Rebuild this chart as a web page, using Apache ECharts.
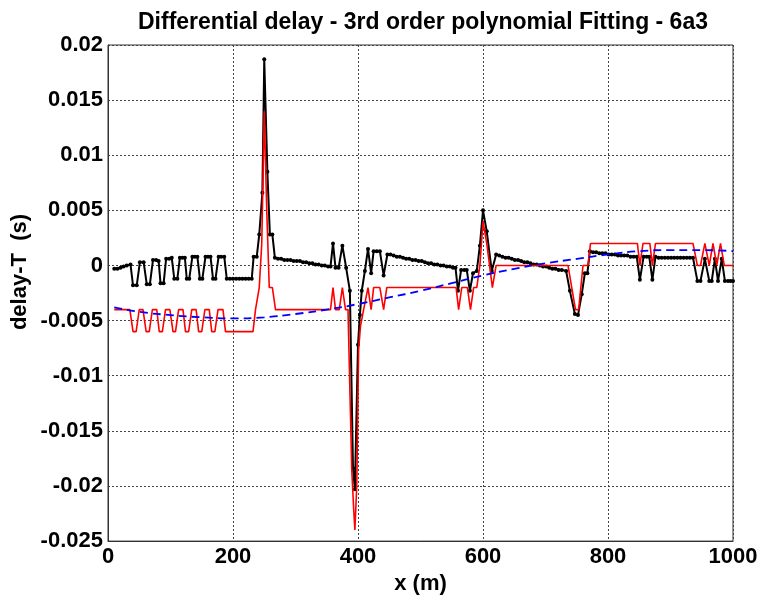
<!DOCTYPE html>
<html>
<head>
<meta charset="utf-8">
<script src="https://cdn.jsdelivr.net/npm/echarts@6/dist/echarts.min.js"></script>
<style>
html,body{margin:0;padding:0;background:#fff;}
#chart{width:761px;height:600px;}
</style>
</head>
<body>
<div id="chart"></div>
<script>
// ---- Data ----
var chartTitle = 'Differential delay - 3rd order polynomial Fitting - 6a3';
var xName = 'x (m)';
var yName = 'delay-T  (s)';
var xTicks = [0, 200, 400, 600, 800, 1000];
var yTickLabels = ['0.02','0.015','0.01','0.005','0','-0.005','-0.01','-0.015','-0.02','-0.025'];

// measured delay (black, dots)
var measuredX = [10,15,20,25,30,36,40,46,51,57,62,67,72,77,81,84,89,93,98,102,106,111,115,119,123,126,130,135,139,143,147,151,156,160,164,168,172,177,181,186,190,195,200,205,210,215,220,225,230,233,238,242,247,250,255,259,263,267,272,277,282,287,292,297,302,307,312,317,322,327,332,337,342,347,352,356,360,364,369,375,381,387,392,395,400,403,406,411,416,421,425,430,435,441,447,452,457,462,467,472,477,482,487,492,497,502,507,512,517,522,527,532,537,542,547,552,556,560,565,570,574,579,584,590,595,600,606,614,621,626,631,636,641,646,651,656,661,666,671,676,681,686,691,696,701,706,711,716,721,726,733,739,747,752,758,763,767,771,776,781,786,791,796,801,806,811,816,821,826,831,836,841,846,851,857,862,866,871,876,881,886,891,896,901,906,911,916,921,926,931,936,943,948,955,962,966,971,976,982,987,992,996,1000];
var measuredY = [-0.0003,-0.0003,-0.0002,-0.0001,0.0000,0.0001,-0.0018,-0.0018,0.0003,0.0003,-0.0017,-0.0017,0.0005,0.0005,0.0004,-0.0016,-0.0016,0.0006,0.0006,0.0007,-0.0012,-0.0012,0.0007,0.0007,0.0007,-0.0012,-0.0012,0.0008,0.0008,0.0008,-0.0012,-0.0012,0.0008,0.0008,0.0008,-0.0012,-0.0012,0.0008,0.0008,0.0008,-0.0012,-0.0012,-0.0012,-0.0012,-0.0012,-0.0012,-0.0012,-0.0012,-0.0012,0.0008,0.0008,0.0028,0.0066,0.0187,0.0085,0.0028,0.0028,0.0007,0.0006,0.0006,0.0005,0.0005,0.0005,0.0004,0.0004,0.0004,0.0003,0.0003,0.0002,0.0002,0.0001,0.0001,0.0000,0.0000,-0.0001,-0.0001,0.0020,-0.0002,-0.0002,0.0018,-0.0002,-0.0023,-0.0184,-0.0203,-0.0072,-0.0045,-0.0023,-0.0005,0.0015,-0.0007,0.0013,0.0013,0.0013,-0.0009,0.0010,0.0010,0.0009,0.0008,0.0008,0.0007,0.0006,0.0006,0.0005,0.0005,0.0004,0.0004,0.0003,0.0002,0.0002,0.0001,0.0001,0.0000,0.0000,-0.0001,-0.0001,-0.0002,-0.0002,-0.0023,-0.0004,-0.0004,-0.0004,-0.0023,-0.0007,-0.0005,0.0018,0.0050,0.0031,-0.0005,0.0010,0.0009,0.0008,0.0007,0.0007,0.0006,0.0005,0.0005,0.0004,0.0003,0.0003,0.0002,0.0001,0.0001,0.0000,-0.0001,-0.0001,-0.0002,-0.0003,-0.0003,-0.0004,-0.0004,-0.0005,-0.0023,-0.0044,-0.0045,-0.0026,-0.0007,-0.0007,0.0013,0.0012,0.0012,0.0011,0.0011,0.0011,0.0010,0.0010,0.0010,0.0009,0.0009,0.0009,0.0009,0.0008,0.0008,0.0008,-0.0013,0.0008,0.0008,0.0008,-0.0013,0.0008,0.0007,0.0007,0.0007,0.0007,0.0007,0.0007,0.0007,0.0007,0.0007,0.0007,0.0007,0.0007,-0.0014,-0.0014,0.0006,-0.0014,-0.0014,0.0006,-0.0014,0.0006,-0.0014,-0.0014,-0.0014,-0.0014];

// quantized delay (red line)
var quantX = [10,35,40,45,50,56,61,66,71,78,82,87,92,99,104,108,113,120,124,129,134,141,145,150,155,162,166,171,176,184,188,232,236,242,246,250,254,258,263,268,356,360,364,370,375,380,384,390,393,395,398,401,404,409,416,421,425,435,441,446,557,561,566,575,580,585,590,595,600,606,615,621,736,742,748,753,760,768,772,847,851,856,867,871,876,936,943,948,955,962,968,974,980,986,1000];
var quantY = [-0.004,-0.004,-0.006,-0.006,-0.004,-0.004,-0.006,-0.006,-0.004,-0.004,-0.006,-0.006,-0.004,-0.004,-0.006,-0.006,-0.004,-0.004,-0.006,-0.006,-0.004,-0.004,-0.006,-0.006,-0.004,-0.004,-0.006,-0.006,-0.004,-0.004,-0.006,-0.006,-0.004,-0.002,0.002,0.014,0.005,-0.002,-0.002,-0.004,-0.004,-0.002,-0.004,-0.004,-0.002,-0.004,-0.004,-0.0185,-0.022,-0.024,-0.020,-0.0076,-0.0055,-0.004,-0.002,-0.004,-0.002,-0.002,-0.004,-0.002,-0.002,-0.004,-0.002,-0.002,-0.004,-0.002,-0.002,0.000,0.004,0.002,-0.002,0.000,0.000,-0.002,-0.004,-0.004,0.000,0.000,0.002,0.002,0.000,0.002,0.002,0.000,0.002,0.002,0.000,0.000,0.002,0.000,0.002,0.000,0.002,0.000,0.000];

// 3rd order polynomial fit (blue dashed)
var fitX = [10,50,100,150,200,250,300,350,400,450,500,550,600,650,700,750,800,850,900,950,1000];
var fitY = [-0.0038,-0.0042,-0.0045,-0.0047,-0.0048,-0.0047,-0.0044,-0.0040,-0.0035,-0.0029,-0.0023,-0.0016,-0.0009,-0.0003,0.0002,0.0006,0.0010,0.0013,0.0014,0.0014,0.0013];

function pairs(xs, ys){ return xs.map(function(x,i){ return [x, ys[i]]; }); }

var FONT = 'Liberation Sans, Arial, sans-serif';
var chart = echarts.init(document.getElementById('chart'), null, {renderer:'canvas'});
chart.setOption({
  animation: false,
  backgroundColor: '#ffffff',
  title: {
    text: chartTitle,
    left: 418, top: 6, textAlign: 'center',
    textStyle: {fontFamily: FONT, fontWeight: 'bold', fontSize: 23, color: '#000'}
  },
  grid: {left: 108, right: 28, top: 45, bottom: 55, show: true, borderColor: '#333', borderWidth: 1, backgroundColor: '#fff'},
  xAxis: {
    type: 'value', min: xTicks[0], max: xTicks[xTicks.length-1], interval: 200,
    name: xName, nameLocation: 'middle', nameGap: 27,
    nameTextStyle: {fontFamily: FONT, fontWeight: 'bold', fontSize: 22, color: '#000'},
    axisLine: {show: true, onZero: false, lineStyle: {color: '#333', width: 1}},
    axisTick: {show: false},
    axisLabel: {fontFamily: FONT, fontWeight: 'bold', fontSize: 22, color: '#000', margin: 5,
      formatter: function(v){ return String(v); }},
    splitLine: {show: true, lineStyle: {color: '#444', type: [2, 2], width: 1}}
  },
  yAxis: {
    type: 'value', min: -0.025, max: 0.02, interval: 0.005,
    axisLine: {show: true, onZero: false, lineStyle: {color: '#333', width: 1}},
    axisTick: {show: false},
    axisLabel: {fontFamily: FONT, fontWeight: 'bold', fontSize: 22, color: '#000', margin: 5,
      formatter: function(v){ var i = Math.round((0.02 - v)/0.005); return yTickLabels[i] !== undefined ? yTickLabels[i] : ''; }},
    splitLine: {show: true, lineStyle: {color: '#444', type: [2, 2], width: 1}}
  },
  graphic: [{
    type: 'text', rotation: Math.PI/2,
    x: 20, y: 272,
    style: {text: yName, fontFamily: FONT, fontWeight: 'bold', fontSize: 22, fill: '#000', textAlign: 'center', textVerticalAlign: 'middle'}
  }],
  series: [
    {type: 'line', data: pairs(measuredX, measuredY), symbol: 'circle', symbolSize: 4, showSymbol: true,
     itemStyle: {color: '#000'}, lineStyle: {color: '#000', width: 2}, z: 2},
    {type: 'line', data: pairs(quantX, quantY), showSymbol: false, symbol: 'none',
     lineStyle: {color: '#ff0000', width: 1.6}, z: 3},
    {type: 'line', data: pairs(fitX, fitY), showSymbol: false, symbol: 'none', smooth: true,
     lineStyle: {color: '#0000ff', width: 1.8, type: [8, 5]}, z: 4}
  ]
});
</script>
</body>
</html>
